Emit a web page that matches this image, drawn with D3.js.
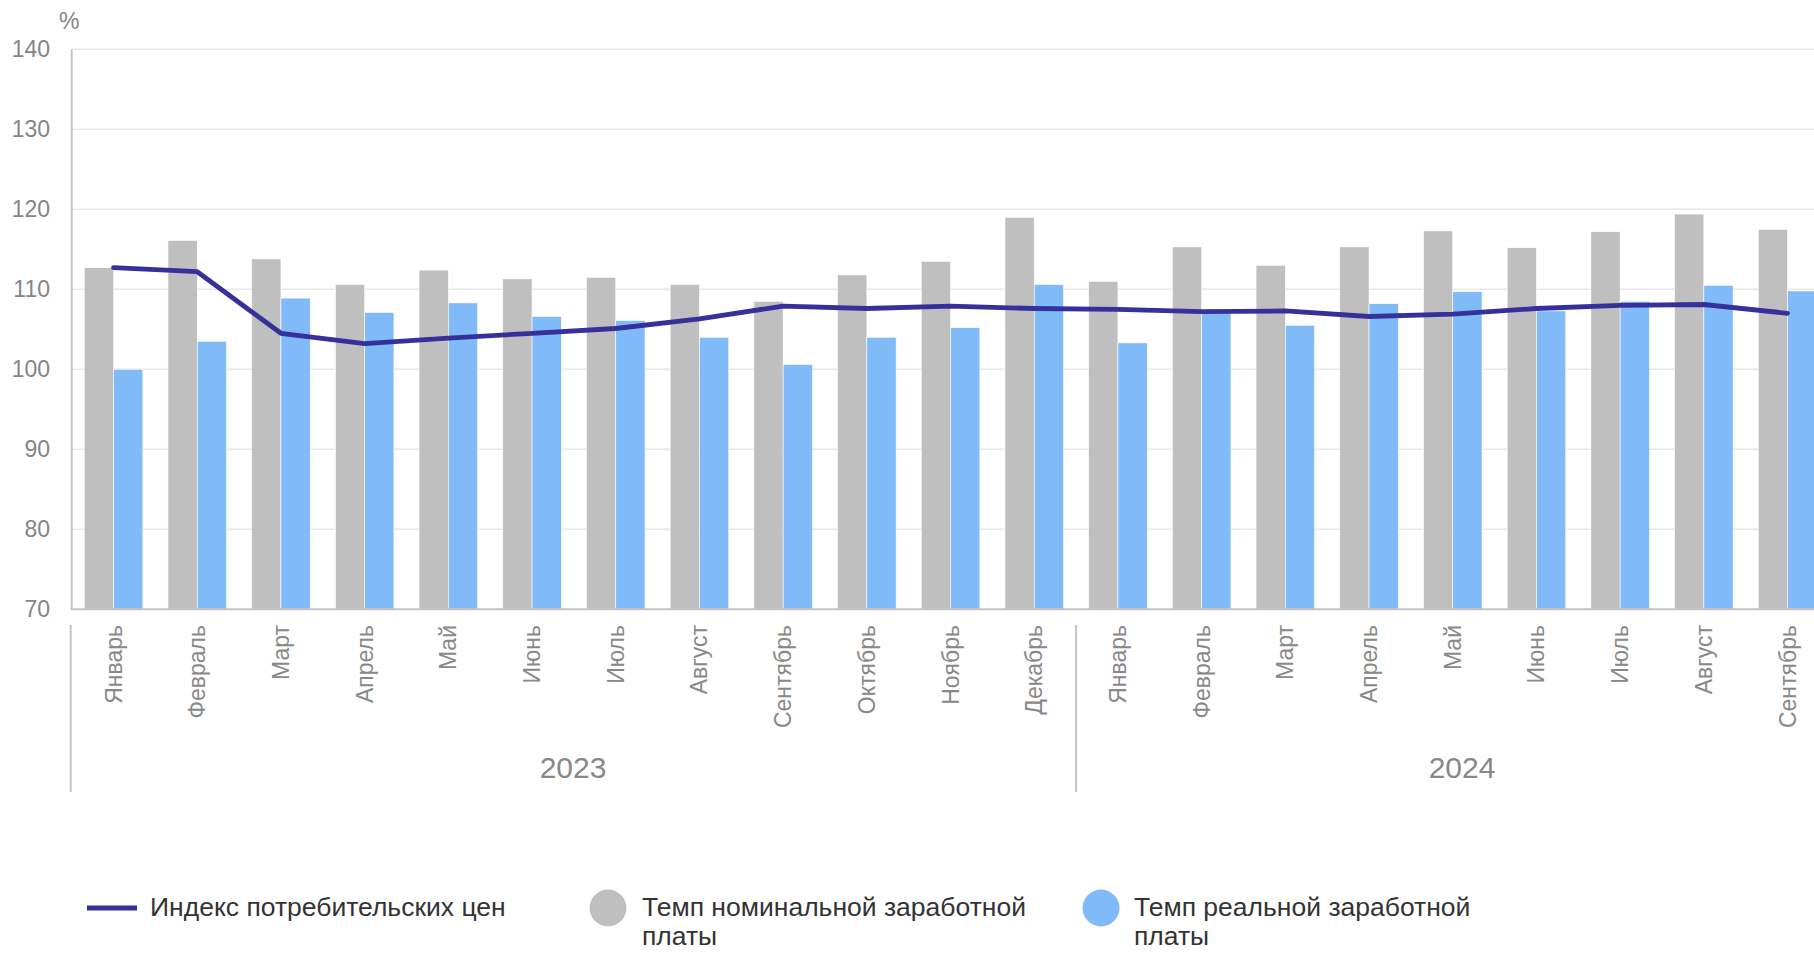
<!DOCTYPE html>
<html>
<head>
<meta charset="utf-8">
<script src="https://cdn.jsdelivr.net/npm/d3@7"></script>
<style>
  html, body { margin: 0; padding: 0; background: #fff; overflow: hidden; }
  svg { display: block; font-family: "Liberation Sans", Arial, sans-serif; }
</style>
</head>
<body>
<svg id="chart" width="1814" height="953"></svg>
<script>
// ---- data ----
const years = ["2023", "2024"];
const months2023 = ["Январь","Февраль","Март","Апрель","Май","Июнь","Июль","Август","Сентябрь","Октябрь","Ноябрь","Декабрь"];
const months2024 = ["Январь","Февраль","Март","Апрель","Май","Июнь","Июль","Август","Сентябрь"];
const cpi      = [112.7,112.2,104.5,103.2,103.9,104.5,105.1,106.3,107.9,107.6,107.9,107.6, 107.5,107.2,107.3,106.6,106.9,107.6,108.0,108.1,107.0];
const nominal  = [112.7,116.1,113.8,110.6,112.4,111.3,111.5,110.6,108.5,111.8,113.5,119.0, 111.0,115.3,113.0,115.3,117.3,115.2,117.2,119.4,117.5];
const real     = [100.0,103.5,108.9,107.1,108.3,106.6,106.1,104.0,100.6,104.0,105.2,110.6, 103.3,107.0,105.5,108.2,109.7,107.3,108.5,110.5,109.8];
const yTicks   = [70,80,90,100,110,120,130,140];
const seriesNames = ["Индекс потребительских цен", "Темп номинальной заработной платы", "Темп реальной заработной платы"];
const colors = { cpi: "#35309a", nominal: "#bfbfbf", real: "#80baf9" };

const cats = months2023.map(m => "2023|" + m).concat(months2024.map(m => "2024|" + m));

const svg = d3.select("#chart");
const plotLeft = 71.7, plotTop = 49.3, plotBottom = 609.3;
const step = 83.7;

const x = d3.scaleBand().domain(cats).range([plotLeft, plotLeft + step * cats.length]).paddingInner(0.3).paddingOuter(0.15);
const x1 = d3.scaleBand().domain(["nominal","real"]).range([0, x.bandwidth()]);
const y = d3.scaleLinear().domain([70, 140]).range([plotBottom, plotTop]);

// gridlines
svg.append("g").selectAll("line").data(yTicks.filter(t => t > 70)).join("line")
  .attr("x1", plotLeft).attr("x2", 1814)
  .attr("y1", d => y(d)).attr("y2", d => y(d))
  .attr("stroke", "#e8e8e8").attr("stroke-width", 1.5);

// y tick labels
svg.append("g").selectAll("text").data(yTicks).join("text")
  .attr("x", 50).attr("y", d => y(d) + 8)
  .attr("text-anchor", "end").attr("font-size", 23).attr("fill", "#858585")
  .text(d => d);
svg.append("text").attr("x", 59).attr("y", 29).attr("font-size", 23).attr("fill", "#858585").text("%");

// bars
const g = svg.append("g");
cats.forEach((c, i) => {
  g.append("rect").attr("x", x(c) + x1("nominal")).attr("width", x1.bandwidth())
    .attr("y", y(nominal[i])).attr("height", y(70) - y(nominal[i]))
    .attr("fill", colors.nominal).attr("stroke", "#fff").attr("stroke-width", 0.6);
  g.append("rect").attr("x", x(c) + x1("real")).attr("width", x1.bandwidth())
    .attr("y", y(real[i])).attr("height", y(70) - y(real[i]))
    .attr("fill", colors.real).attr("stroke", "#fff").attr("stroke-width", 0.6);
});

// axes lines
svg.append("line").attr("x1", plotLeft).attr("x2", plotLeft).attr("y1", plotTop).attr("y2", plotBottom)
  .attr("stroke", "#c4c4c4").attr("stroke-width", 2);
svg.append("line").attr("x1", plotLeft - 1).attr("x2", 1814).attr("y1", plotBottom).attr("y2", plotBottom)
  .attr("stroke", "#c4c4c4").attr("stroke-width", 2);

// CPI line
const line = d3.line().x((d, i) => x(cats[i]) + x.bandwidth() / 2).y(d => y(d));
svg.append("path").datum(cpi).attr("d", line)
  .attr("fill", "none").attr("stroke", colors.cpi).attr("stroke-width", 4.8)
  .attr("stroke-linecap", "round").attr("stroke-linejoin", "round");

// month labels
svg.append("g").selectAll("text").data(cats).join("text")
  .attr("transform", d => `translate(${x(d) + x.bandwidth() / 2 + 8},625) rotate(-90)`)
  .attr("text-anchor", "end").attr("font-size", 23).attr("fill", "#888")
  .text(d => d.split("|")[1]);

// year dividers and labels
const divX = [plotLeft - 1, x(cats[12]) - x.step() * x.paddingInner() / 2];
svg.append("g").selectAll("line").data(divX).join("line")
  .attr("x1", d => d).attr("x2", d => d).attr("y1", 625).attr("y2", 792)
  .attr("stroke", "#c4c4c4").attr("stroke-width", 2);
const yearCenters = [573, 1462];
svg.append("g").selectAll("text").data(years).join("text")
  .attr("x", (d, i) => yearCenters[i]).attr("y", 778)
  .attr("text-anchor", "middle").attr("font-size", 30).attr("fill", "#888")
  .text(d => d);

// legend
const lg = svg.append("g").attr("font-size", 26.5).attr("fill", "#333");
lg.append("line").attr("x1", 87).attr("x2", 137).attr("y1", 908).attr("y2", 908)
  .attr("stroke", colors.cpi).attr("stroke-width", 5);
lg.append("text").attr("x", 150).attr("y", 916).text(seriesNames[0]);
lg.append("circle").attr("cx", 608).attr("cy", 908).attr("r", 18.5).attr("fill", colors.nominal);
const t1 = lg.append("text").attr("x", 642).attr("y", 916);
t1.append("tspan").attr("x", 642).text("Темп номинальной заработной");
t1.append("tspan").attr("x", 642).attr("dy", 29).text("платы");
lg.append("circle").attr("cx", 1101).attr("cy", 908).attr("r", 18.5).attr("fill", colors.real);
const t2 = lg.append("text").attr("x", 1134).attr("y", 916);
t2.append("tspan").attr("x", 1134).text("Темп реальной заработной");
t2.append("tspan").attr("x", 1134).attr("dy", 29).text("платы");
</script>
</body>
</html>
